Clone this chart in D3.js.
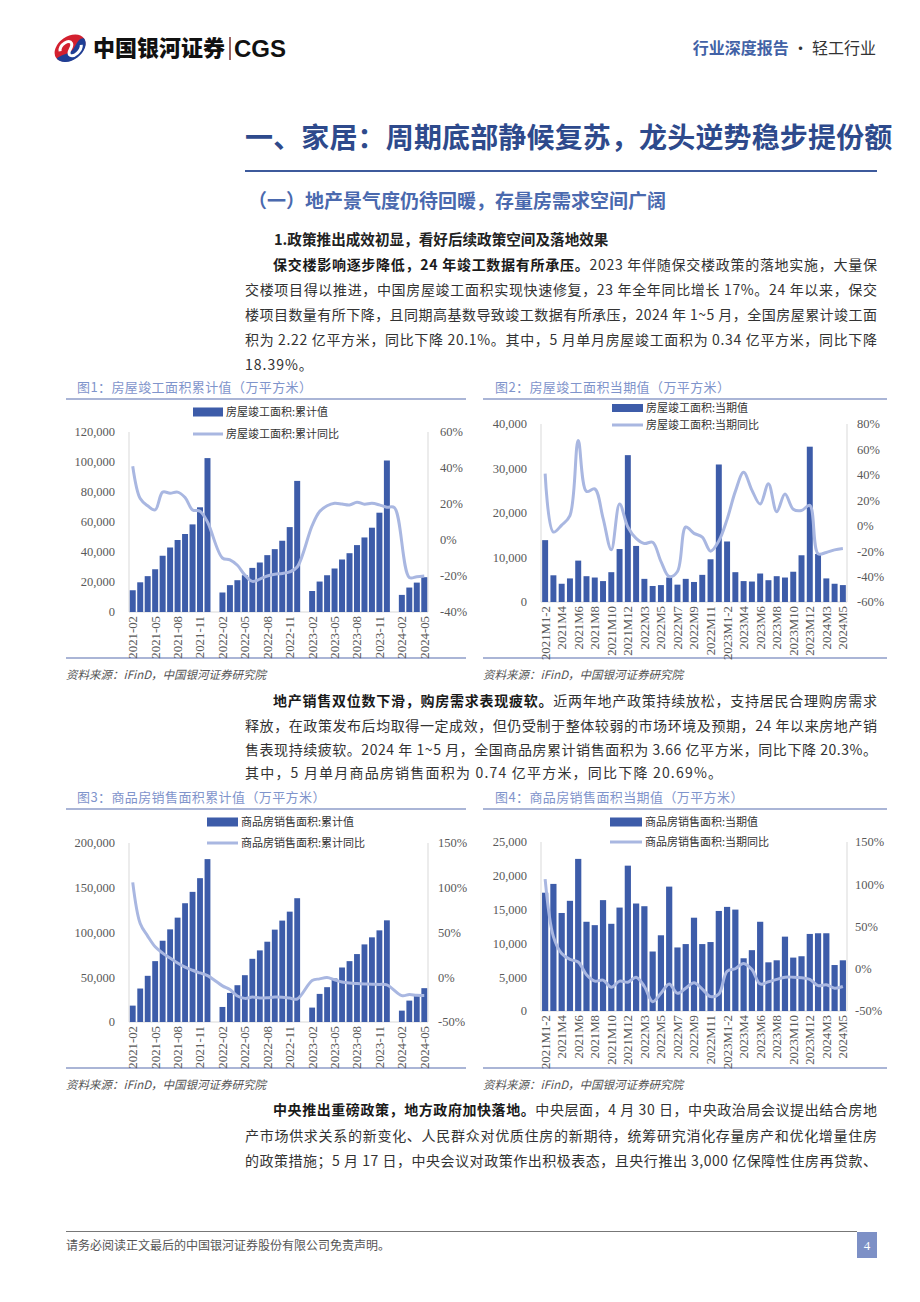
<!DOCTYPE html>
<html><head><meta charset="utf-8">
<script src="https://cdn.jsdelivr.net/npm/d3@7"></script>
<style>body{margin:0;background:#fff}svg{display:block}</style>
</head><body>
<svg id="page" width="920" height="1302"></svg>
<script>
// ---------------- DATA ----------------
// cumulative charts: 2021-02 .. 2024-05 (January merged into Feb -> null)
const catsCum = [];
[[2021,2,12],[2022,1,12],[2023,1,12],[2024,1,5]].forEach(([y,a,b])=>{for(let m=a;m<=b;m++)catsCum.push(y+"-"+String(m).padStart(2,"0"));});
const cumLabels = ["2021-02","2021-05","2021-08","2021-11","2022-02","2022-05","2022-08","2022-11","2023-02","2023-05","2023-08","2023-11","2024-02","2024-05"];
// monthly charts
const catsMon = ["2021M1-2","2021M3","2021M4","2021M5","2021M6","2021M7","2021M8","2021M9","2021M10","2021M11","2021M12",
"2022M1-2","2022M3","2022M4","2022M5","2022M6","2022M7","2022M8","2022M9","2022M10","2022M11","2022M12",
"2023M1-2","2023M3","2023M4","2023M5","2023M6","2023M7","2023M8","2023M9","2023M10","2023M11","2023M12",
"2024M1-2","2024M3","2024M4","2024M5"];
const monLabels = ["2021M1-2","2021M4","2021M6","2021M8","2021M10","2021M12","2022M3","2022M5","2022M7","2022M9","2022M11","2023M1-2","2023M4","2023M6","2023M8","2023M10","2023M12","2024M3","2024M5"];

// Fig1 房屋竣工面积 累计值 / 累计同比
const compCum = [14500,19800,23900,28500,37500,43000,48000,52000,58400,69800,102600,null,
13000,17900,21200,24500,29400,33000,37900,41900,47500,56600,87400,null,
14000,20300,24500,29000,35000,39200,44600,49700,56200,66200,101000,null,
11400,16300,19600,23200];
const compCumYoY = [41,23,19,16.7,26.6,26,26.6,23.6,16.7,16,10,null,
-10,-11,-14,-19.5,-23,-21.7,-20,-19,-18.6,-17.7,-15,null,
8,15.8,19,20.4,20,19.5,21,19.9,20.4,19.5,18.2,18,null,
-20.8,-20.4,-20,-19.8];
// Fig2 房屋竣工面积 当期值 / 当期同比
const compMon = [13900,6000,4100,5300,9300,5800,5500,4700,6700,11900,33000,
12600,5200,3600,3800,5500,3900,5200,4500,6100,9600,30900,
13600,6700,4700,4600,6400,4900,5800,5500,6800,10500,34900,
10800,5300,4100,3800];
const compMonYoY = [41,-5,0.5,8,67,27,29,6,-19,17,-1,
-10,-14,-13,-28,-40,-36,-1,-6,-9,-20,-12,
5,27,42,28,17,33,11,25,13,12,16,
-22,-21,-19,-18];
// Fig3 商品房销售面积 累计值 / 累计同比
const salesCum = [18300,37400,51600,68000,90800,103500,116600,132700,145400,160700,182000,null,
16800,32500,41100,52300,70600,80000,89700,103200,113300,123300,138300,null,
16100,31400,38900,48600,60900,68000,75900,86700,94600,102400,113600,null,
12700,23900,30600,37800];
const salesCumYoY = [106,60,46,34,27,21.5,16,11.3,7.8,4.8,1.9,null,
-9.6,-13.8,-21,-23.6,-22.2,-23.1,-23,-22.2,-22.3,-23.3,-24.3,null,
-3.6,-1.8,-0.4,-3,-5.3,-6.5,-7.1,-7.5,-7.8,-8,-8.5,null,
-20.5,-19.4,-20.2,-20.3];
// Fig4 商品房销售面积 当期值 / 当期同比
const salesMon = [17500,18800,14500,16300,22500,13200,12700,16400,12900,15300,21500,
15900,15500,8800,11200,18400,9400,9900,13800,9900,10200,14800,
15400,15000,7800,9000,13200,7200,7500,11000,7900,8100,11400,
11500,11500,6800,7500];
const salesMonYoY = [106,38,18,11,8,-7,-14.6,-13.4,-22,-14.6,-16,
-10,-21,-39,-29,-18,-29,-23,-16.6,-24,-33,-30,
-3,0,6.3,-1,-18,-15.4,-12.6,-10,-10,-10.7,-12.6,
-20,-19,-23,-21];

const ticksL1 = [0,20000,40000,60000,80000,100000,120000], ticksR1 = [-40,-20,0,20,40,60];
const ticksL2 = [0,10000,20000,30000,40000], ticksR2 = [-60,-40,-20,0,20,40,60,80];
const ticksL3 = [0,50000,100000,150000,200000], ticksR3 = [-50,0,50,100,150];
const ticksL4 = [0,5000,10000,15000,20000,25000], ticksR4 = [-50,0,50,100,150];

// ---------------- STYLE ----------------
const BAR = "#3d5ca9", LINE = "#a9b7e1", AXC = "#d9d9d9", TXT = "#595959";
const CJK = "'Noto Sans CJK SC','Noto Sans',sans-serif";
const SERIF = "'Liberation Serif','DejaVu Serif',serif";
const svg = d3.select("#page");
svg.append("rect").attr("width",920).attr("height",1302).attr("fill","#fff");

// ---------------- HEADER ----------------
const logo = svg.append("g").attr("transform","translate(70,48) rotate(-35)");
logo.append("ellipse").attr("rx",17).attr("ry",11.5).attr("fill","#d3202f");
logo.append("path").attr("d","M-17,1 A17,11.5 0 0 0 17,0 C12,-4 6,2 1,3 C-6,4 -11,0 -17,1 Z").attr("fill","#1f3f95");
logo.append("path").attr("d","M-10,-3 C-7,-9 5,-8 4,-3 C3,2 -6,1 -4,6 C-2,10 8,9 11,4").attr("fill","none").attr("stroke","#fff").attr("stroke-width",3);
svg.append("text").attr("x",93).attr("y",56).attr("font-family",CJK).attr("font-weight",900).attr("font-size",22).attr("fill","#111").text("中国银河证券");
svg.append("line").attr("x1",230).attr("x2",230).attr("y1",37).attr("y2",60).attr("stroke","#7a3030").attr("stroke-width",1.5);
svg.append("text").attr("x",234).attr("y",57).attr("font-family","'Liberation Sans',Arial,sans-serif").attr("font-weight",700).attr("font-size",24).attr("fill","#111").text("CGS");
const hr = svg.append("text").attr("x",876).attr("y",54).attr("text-anchor","end").attr("font-family",CJK).attr("font-size",16);
hr.append("tspan").attr("font-weight",700).attr("fill","#4262a6").text("行业深度报告");
hr.append("tspan").attr("fill","#333").text(" · 轻工行业");

// ---------------- TITLES ----------------
svg.append("text").attr("x",245).attr("y",148).attr("font-family",CJK).attr("font-weight",700).attr("font-size",28).attr("fill","#2e4a8c").style("letter-spacing","0.15px").text("一、家居：周期底部静候复苏，龙头逆势稳步提份额");
svg.append("line").attr("x1",245).attr("x2",877).attr("y1",171).attr("y2",171).attr("stroke","#3d5a9c").attr("stroke-width",2);
svg.append("text").attr("x",248).attr("y",208).attr("font-family",CJK).attr("font-weight",700).attr("font-size",19).attr("fill","#4a69ae").text("（一）地产景气度仍待回暖，存量房需求空间广阔");
svg.append("text").attr("x",274).attr("y",245).attr("font-family",CJK).attr("font-weight",700).attr("font-size",14.6).attr("fill","#222").text("1.政策推出成效初显，看好后续政策空间及落地效果");

// ---------------- PARAGRAPHS ----------------
function textLine(x, y, segs, right, ls0){
  const g = svg.append("g");
  const nodes = segs.map(s => g.append("text").attr("y",y).attr("font-family",CJK).attr("font-size",14)
      .attr("font-weight",s.b?700:400).attr("fill",s.b?"#1a1a1a":"#333").text(s.t));
  const nat = nodes.map(n=>n.node().getComputedTextLength());
  const lens = segs.map(s=>[...s.t].length);
  const nChars = d3.sum(lens);
  const ls = right ? ((right - x) - d3.sum(nat)) / (nChars - 1) : ls0;
  let cx = x;
  nodes.forEach((n,i)=>{ n.attr("x",cx).style("letter-spacing",ls+"px"); cx += nat[i] + ls*lens[i]; });
}
const R = 877;
textLine(273,270,[{t:"保交楼影响逐步降低，24 年竣工数据有所承压。",b:1},{t:"2023 年伴随保交楼政策的落地实施，大量保"}],R);
textLine(245,295,[{t:"交楼项目得以推进，中国房屋竣工面积实现快速修复，23 年全年同比增长 17%。24 年以来，保交"}],R);
textLine(245,320,[{t:"楼项目数量有所下降，且同期高基数导致竣工数据有所承压，2024 年 1~5 月，全国房屋累计竣工面"}],R);
textLine(245,345,[{t:"积为 2.22 亿平方米，同比下降 20.1%。其中，5 月单月房屋竣工面积为 0.34 亿平方米，同比下降"}],R);
textLine(245,370,[{t:"18.39%。"}],null,1);

textLine(273,706,[{t:"地产销售双位数下滑，购房需求表现疲软。",b:1},{t:"近两年地产政策持续放松，支持居民合理购房需求"}],R);
textLine(245,731,[{t:"释放，在政策发布后均取得一定成效，但仍受制于整体较弱的市场环境及预期，24 年以来房地产销"}],R);
textLine(245,755,[{t:"售表现持续疲软。2024 年 1~5 月，全国商品房累计销售面积为 3.66 亿平方米，同比下降 20.3%。"}],R);
textLine(245,778,[{t:"其中，5 月单月商品房销售面积为 0.74 亿平方米，同比下降 20.69%。"}],null,1.2);

textLine(273,1115,[{t:"中央推出重磅政策，地方政府加快落地。",b:1},{t:"中央层面，4 月 30 日，中央政治局会议提出结合房地"}],R);
textLine(245,1141,[{t:"产市场供求关系的新变化、人民群众对优质住房的新期待，统筹研究消化存量房产和优化增量住房"}],R);
textLine(245,1166,[{t:"的政策措施；5 月 17 日，中央会议对政策作出积极表态，且央行推出 3,000 亿保障性住房再贷款、"}],R);

// ---------------- FOOTER ----------------
svg.append("line").attr("x1",66).attr("x2",857).attr("y1",1231.5).attr("y2",1231.5).attr("stroke","#777").attr("stroke-width",1);
svg.append("text").attr("x",66).attr("y",1250).attr("font-family",CJK).attr("font-size",12).attr("fill","#555").text("请务必阅读正文最后的中国银河证券股份有限公司免责声明。");
svg.append("rect").attr("x",857).attr("y",1232).attr("width",20).attr("height",26).attr("fill","#7d90c6");
svg.append("text").attr("x",867).attr("y",1250).attr("text-anchor","middle").attr("font-family",SERIF).attr("font-size",13).attr("fill","#fff").text("4");

// ---------------- CHARTS ----------------
function chart(c){
  const g = svg.append("g");
  g.append("text").attr("x",c.titleX).attr("y",c.titleY).attr("font-family",CJK).attr("font-size",13).style("letter-spacing","0.4px").attr("fill","#7f94cb").text(c.title);
  g.append("line").attr("x1",c.fx0).attr("x2",c.fx1).attr("y1",c.titleY+7).attr("y2",c.titleY+7).attr("stroke","#8e9dc8").attr("stroke-width",1.5);
  g.append("line").attr("x1",c.fx0).attr("x2",c.fx1).attr("y1",c.botY).attr("y2",c.botY).attr("stroke","#8e9dc8").attr("stroke-width",1.5);
  g.append("text").attr("x",c.fx0).attr("y",c.botY+21).attr("font-family",CJK).attr("font-style","italic").attr("font-size",11.5).attr("fill","#555").text("资料来源：iFinD，中国银河证券研究院");

  const x = d3.scaleBand().domain(c.cats).range([c.px0,c.px1]).paddingInner(c.pad).paddingOuter(c.pad/2);
  const yL = d3.scaleLinear().domain(d3.extent(c.tL)).range([c.py1,c.py0]);
  const yR = d3.scaleLinear().domain(d3.extent(c.tR)).range([c.py1,c.py0]);
  g.append("line").attr("x1",c.px0).attr("x2",c.px0).attr("y1",c.py0).attr("y2",c.py1).attr("stroke",AXC);
  g.append("line").attr("x1",c.px1).attr("x2",c.px1).attr("y1",c.py0).attr("y2",c.py1).attr("stroke",AXC);
  g.append("line").attr("x1",c.px0).attr("x2",c.px1).attr("y1",yL(0)).attr("y2",yL(0)).attr("stroke",AXC);
  g.selectAll(null).data(c.tL).join("text").attr("x",c.px0-14).attr("y",d=>yL(d)).attr("dy","0.35em")
    .attr("text-anchor","end").attr("font-family",SERIF).attr("font-size",12.5).attr("fill",TXT).text(d3.format(","));
  g.selectAll(null).data(c.tR).join("text").attr("x",c.px1+c.rOff).attr("y",d=>yR(d)).attr("dy","0.35em")
    .attr("text-anchor","start").attr("font-family",SERIF).attr("font-size",12.5).attr("fill",TXT).text(d=>d+"%");
  g.selectAll(null).data(c.xl).join("text")
    .attr("transform",d=>`translate(${x(d)+x.bandwidth()/2},${c.py1+4}) rotate(-90)`)
    .attr("dy","0.35em").attr("text-anchor","end").attr("font-family",SERIF).attr("font-size",12.8).attr("fill",TXT).text(d=>d);
  const bd = c.cats.map((k,i)=>({k,v:c.bars[i],r:c.line[i]}));
  g.selectAll(null).data(bd.filter(d=>d.v!=null)).join("rect")
    .attr("x",d=>x(d.k)).attr("width",x.bandwidth()).attr("y",d=>yL(d.v)).attr("height",d=>yL(0)-yL(d.v)).attr("fill",BAR);
  const ln = d3.line().x(d=>x(d.k)+x.bandwidth()/2).y(d=>yR(d.r)).curve(d3.curveCatmullRom.alpha(0.5));
  g.append("path").datum(bd.filter(d=>d.r!=null)).attr("d",ln).attr("fill","none").attr("stroke",LINE).attr("stroke-width",3).attr("stroke-linejoin","round");
  const L = c.leg;
  g.append("rect").attr("x",L.x).attr("y",L.y1-L.h/2).attr("width",L.w).attr("height",L.h).attr("fill",BAR);
  g.append("text").attr("x",L.x+L.w+3).attr("y",L.y1).attr("dy","0.35em").attr("font-family",CJK).attr("font-size",11).attr("fill","#333").text(c.n1);
  g.append("line").attr("x1",L.x).attr("x2",L.x+L.w).attr("y1",L.y2).attr("y2",L.y2).attr("stroke",LINE).attr("stroke-width",3);
  g.append("text").attr("x",L.x+L.w+3).attr("y",L.y2).attr("dy","0.35em").attr("font-family",CJK).attr("font-size",11).attr("fill","#333").text(c.n2);
}

chart({title:"图1：房屋竣工面积累计值（万平方米）",titleX:77,titleY:392,fx0:66,fx1:466,botY:658,
  cats:catsCum,bars:compCum,line:compCumYoY,tL:ticksL1,tR:ticksR1,xl:cumLabels,
  px0:129,px1:428,py0:432,py1:612,pad:0.2,rOff:12,
  leg:{x:193,w:30,h:9,y1:412,y2:434},n1:"房屋竣工面积:累计值",n2:"房屋竣工面积:累计同比"});
chart({title:"图2：房屋竣工面积当期值（万平方米）",titleX:495,titleY:392,fx0:483,fx1:887,botY:658,
  cats:catsMon,bars:compMon,line:compMonYoY,tL:ticksL2,tR:ticksR2,xl:monLabels,
  px0:541,px1:847,py0:424,py1:602,pad:0.28,rOff:10,
  leg:{x:612,w:31,h:8,y1:408,y2:425},n1:"房屋竣工面积:当期值",n2:"房屋竣工面积:当期同比"});
chart({title:"图3：商品房销售面积累计值（万平方米）",titleX:77,titleY:802,fx0:66,fx1:466,botY:1068,
  cats:catsCum,bars:salesCum,line:salesCumYoY,tL:ticksL3,tR:ticksR3,xl:cumLabels,
  px0:129,px1:428,py0:843,py1:1022,pad:0.22,rOff:10,
  leg:{x:207,w:31,h:9,y1:822,y2:843},n1:"商品房销售面积:累计值",n2:"商品房销售面积:累计同比"});
chart({title:"图4：商品房销售面积当期值（万平方米）",titleX:495,titleY:802,fx0:483,fx1:887,botY:1068,
  cats:catsMon,bars:salesMon,line:salesMonYoY,tL:ticksL4,tR:ticksR4,xl:monLabels,
  px0:541,px1:847,py0:842,py1:1011,pad:0.25,rOff:8,
  leg:{x:610,w:32,h:9,y1:822,y2:842},n1:"商品房销售面积:当期值",n2:"商品房销售面积:当期同比"});
</script>
</body></html>
